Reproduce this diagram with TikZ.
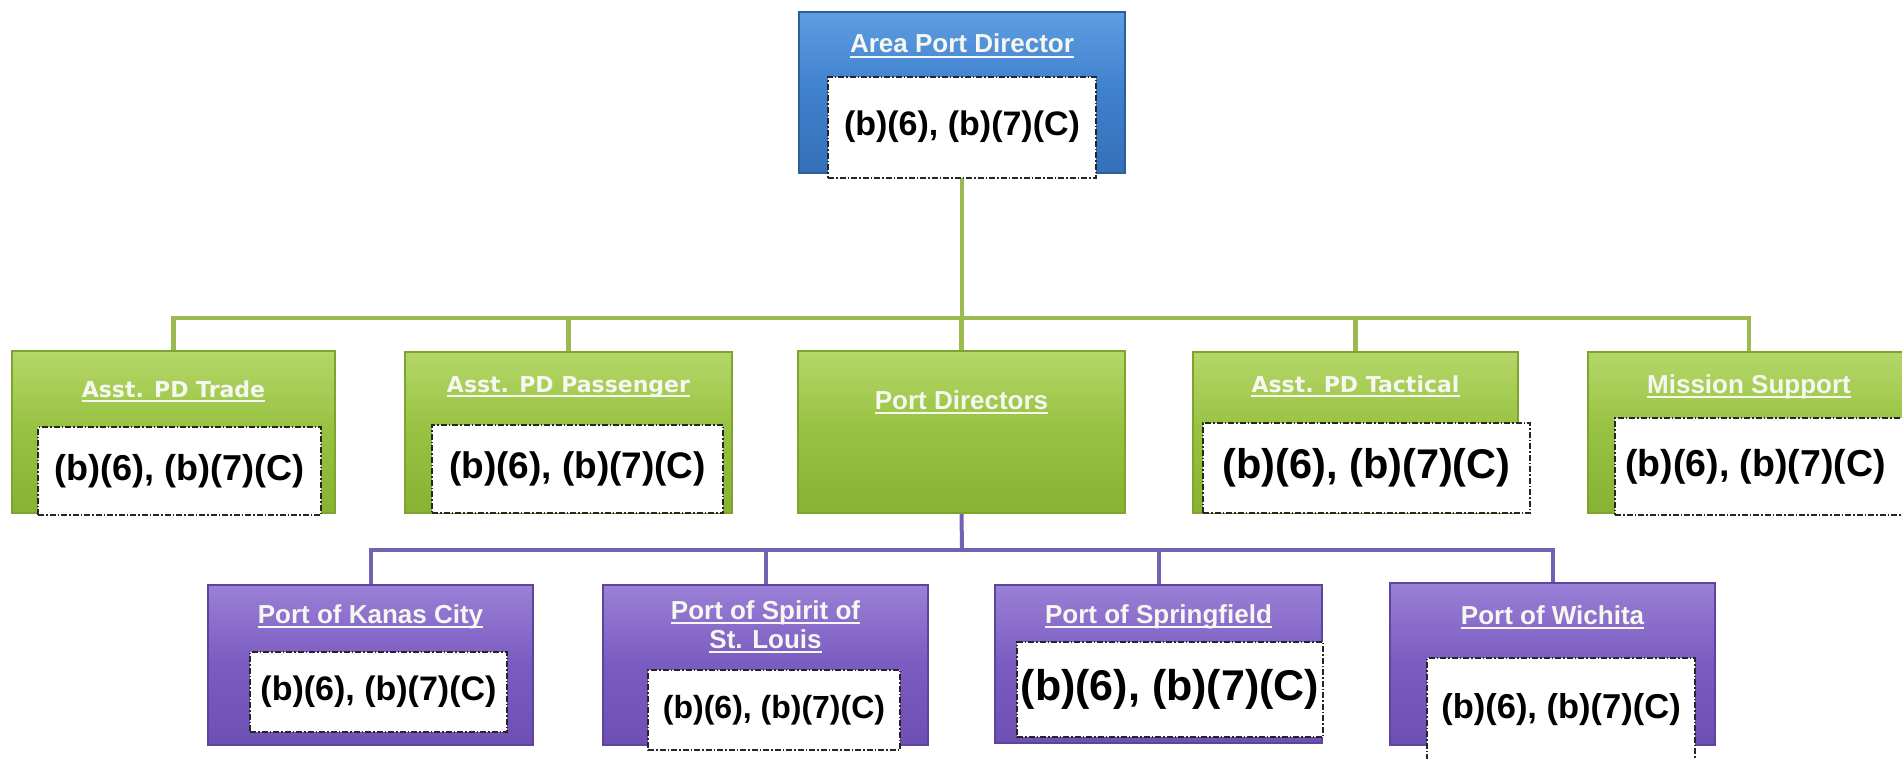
\documentclass[tikz,border=0pt]{standalone}
\usepackage{fontspec}
\setmainfont{Liberation Sans}
\newfontfamily\wideft{DejaVu Sans}
\usetikzlibrary{backgrounds}
\definecolor{bluetop}{HTML}{5E9DE2}
\definecolor{bluemid}{HTML}{3F80CC}
\definecolor{bluebot}{HTML}{3570B8}
\definecolor{blueedge}{HTML}{2C5F9E}
\definecolor{greentop}{HTML}{B4D768}
\definecolor{greenmid}{HTML}{97C140}
\definecolor{greenbot}{HTML}{88B232}
\definecolor{greenedge}{HTML}{7EA42F}
\definecolor{purptop}{HTML}{9A80D6}
\definecolor{purpmid}{HTML}{7A5BC0}
\definecolor{purpbot}{HTML}{6E4FB2}
\definecolor{purpedge}{HTML}{5E44A0}
\definecolor{gconn}{HTML}{9BBB50}
\definecolor{pconn}{HTML}{7262B0}
\definecolor{ttlcol}{HTML}{F5F7F0}
\newcommand\fsz[1]{\fontsize{#1}{#1}\selectfont}
\begin{document}
\begin{tikzpicture}[x=1pt,y=-1pt,
  box/.style={rectangle, inner sep=0pt, line width=1.5pt},
  bluebox/.style={box, top color=bluetop, bottom color=bluebot, middle color=bluemid, draw=blueedge},
  greenbox/.style={box, top color=greentop, bottom color=greenbot, middle color=greenmid, draw=greenedge},
  purpbox/.style={box, top color=purptop, bottom color=purpbot, middle color=purpmid, draw=purpedge},
  whitebox/.style={rectangle, inner sep=0pt, fill=white, draw=black!85, line width=1.3pt,
    dash pattern=on 6pt off 2pt on 1.5pt off 2pt, text=black},
  ttl/.style={inner sep=0pt, anchor=base, text=ttlcol, font=\bfseries\fsz{26}},
  wttl/.style={ttl, font=\wideft\bfseries\fsz{22}},
  uline/.style={draw=ttlcol, line width=1.8pt},
  gline/.style={draw=gconn, line width=4.5pt},
  pline/.style={draw=pconn, line width=4pt}
]
\useasboundingbox (0,0) rectangle (1902,759);
\clip (0,0) rectangle (1902,759);

% top
\node[bluebox, minimum width=326pt, minimum height=161pt] (apd) at (962,92.5) {};
\node[ttl] (apdt) at (962,53) {Area Port Director};
\node[whitebox, minimum width=268pt, minimum height=101pt, font=\bfseries\fsz{34}] (apdw) at (962,127.5) {\raisebox{8pt}{(b)(6), (b)(7)(C)}};

% second row
\node[greenbox, minimum width=323pt, minimum height=162pt] (trade) at (173.5,432) {};
\node[wttl] (tradet) at (173.5,397) {Asst. PD Trade};
\node[whitebox, minimum width=283pt, minimum height=88pt, font=\bfseries\fsz{36}] (tradew) at (179.5,471) {(b)(6), (b)(7)(C)};

\node[greenbox, minimum width=327pt, minimum height=161pt] (pass) at (568.5,432.5) {};
\node[wttl] (passt) at (568.5,392) {Asst. PD Passenger};
\node[whitebox, minimum width=291pt, minimum height=88pt, font=\bfseries\fsz{37}] (passw) at (577.5,469) {(b)(6), (b)(7)(C)};

\node[greenbox, minimum width=327pt, minimum height=162pt] (pd) at (961.5,432) {};
\node[ttl] (pdt) at (961.5,409) {Port Directors};

\node[greenbox, minimum width=325pt, minimum height=161pt] (tac) at (1355.5,432.5) {};
\node[wttl] (tact) at (1355.5,392) {Asst. PD Tactical};
\node[whitebox, minimum width=327pt, minimum height=90pt, font=\bfseries\fsz{41.5}] (tacw) at (1366.5,468) {(b)(6), (b)(7)(C)};

\node[greenbox, minimum width=322pt, minimum height=161pt] (ms) at (1749,432.5) {};
\node[ttl] (mst) at (1749,393) {Mission Support};
\node[whitebox, minimum width=295pt, minimum height=97pt, font=\bfseries\fsz{37.5}] (msw) at (1762.5,466.5) {\hspace*{-14pt}(b)(6), (b)(7)(C)};

% third row
\node[purpbox, minimum width=325pt, minimum height=160pt] (kc) at (370.5,665) {};
\node[ttl] (kct) at (370.5,623) {Port of Kanas City};
\node[whitebox, minimum width=257pt, minimum height=80pt, font=\bfseries\fsz{34}] (kcw) at (378.5,692) {(b)(6), (b)(7)(C)};

\node[purpbox, minimum width=325pt, minimum height=160pt] (stl) at (765.5,665) {};
\node[ttl] (stlt) at (765.5,619) {Port of Spirit of};
\node[ttl] (stlu) at (765.5,648) {St. Louis};
\node[whitebox, minimum width=252pt, minimum height=80pt, font=\bfseries\fsz{32}] (stlw) at (774,710) {(b)(6), (b)(7)(C)};

\node[purpbox, minimum width=327pt, minimum height=158pt] (spr) at (1158.5,664) {};
\node[ttl] (sprt) at (1158.5,623) {Port of Springfield};
\node[whitebox, minimum width=306pt, minimum height=95pt, font=\bfseries\fsz{43}] (sprw) at (1170,689.5) {\raisebox{-8pt}{(b)(6), (b)(7)(C)}};

\node[purpbox, minimum width=325pt, minimum height=162pt] (wic) at (1552.5,664) {};
\node[ttl] (wict) at (1552.5,624) {Port of Wichita};
\node[whitebox, minimum width=268pt, minimum height=104pt, font=\bfseries\fsz{34.5}] (wicw) at (1561,710) {(b)(6), (b)(7)(C)};

% underlines of titles
\foreach \t in {apdt,tradet,passt,pdt,tact,mst,kct,stlt,stlu,sprt,wict}
  \draw[uline] ([yshift=-4pt]\t.base west) -- ([yshift=-4pt]\t.base east);

% connectors
\begin{scope}[on background layer]
  \coordinate (gbus) at (962,318);
  \coordinate (pbus) at (962,550);
  \draw[gline] (apd.south) -- (gbus);
  \draw[gline] (trade.north) -- (trade.north |- gbus) -- (ms.north |- gbus) -- (ms.north);
  \foreach \n in {pass,pd,tac} \draw[gline] (\n.north) -- (\n.north |- gbus);
  \draw[pline] (pd.south) -- (pbus);
  \draw[pline] (kc.north) -- (kc.north |- pbus) -- (wic.north |- pbus) -- (wic.north);
  \foreach \n in {stl,spr} \draw[pline] (\n.north) -- (\n.north |- pbus);
\end{scope}
\end{tikzpicture}
\end{document}
